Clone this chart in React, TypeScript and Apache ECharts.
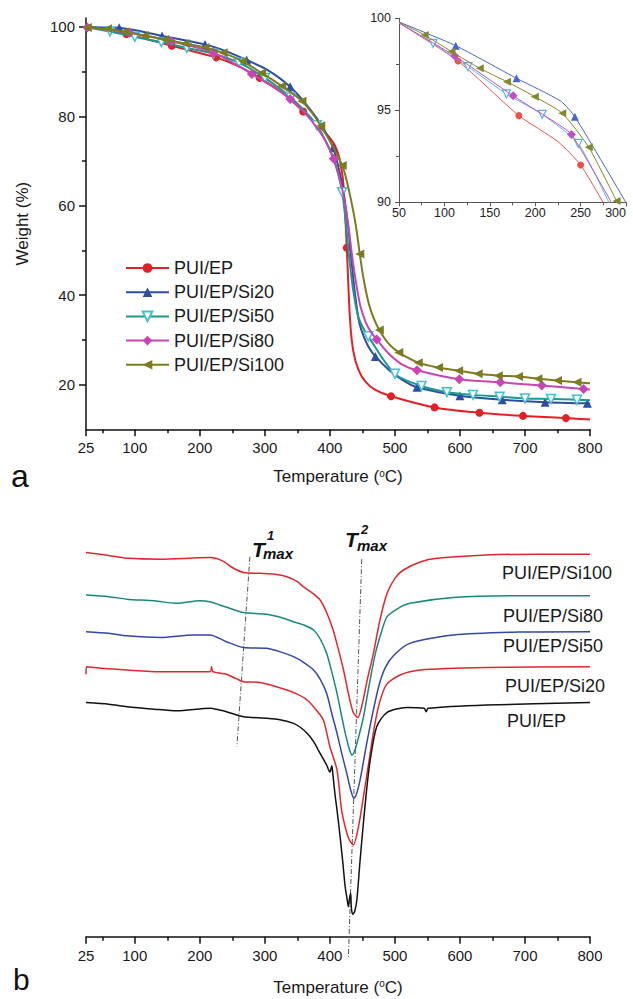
import React, { useEffect, useRef } from 'react';
import * as echarts from 'echarts';

// ---------- axis ticks ----------
const tempTicks = [25, 100, 200, 300, 400, 500, 600, 700, 800];
const tempMinor = [50, 150, 250, 350, 450, 550, 650, 750];
const weightTicks = [20, 40, 60, 80, 100];
const weightMinor = [30, 50, 70, 90];

const names = ['PUI/EP', 'PUI/EP/Si20', 'PUI/EP/Si50', 'PUI/EP/Si80', 'PUI/EP/Si100'];

// ---------- TGA (panel a), [temperature, weight %] ----------
const epMarks = [[87, 98.4], [157, 95.8], [225, 93.2], [292, 88.6], [359, 81.1], [426, 50.6], [494, 17.4], [561, 14.9], [630, 13.7], [697, 13.0], [763, 12.5]];
const epCurve = [[25, 100], [50, 99.6], [120, 97.2], [190, 94.5], [260, 91.2], [325, 85.5], [390, 76.8], [405, 74.2], [412, 72.0], [417, 69.0], [421, 64.5], [431, 34.5], [436, 27.5], [444, 23.3], [455, 20.6], [470, 18.8], [800, 12.2]];

const si20Marks = [[76, 99.8], [142, 98.0], [208, 96.1], [272, 92.6], [339, 86.6], [405, 73.0], [470, 26.3], [534, 19.4], [600, 17.5], [665, 16.6], [731, 16.05], [796, 15.8]];
const si20Curve = [[25, 100], [50, 99.9], [240, 94.6], [305, 90.3], [370, 81.5], [390, 77.3], [415, 67.5], [422, 62.0], [428, 55.5], [433, 48.0], [438, 41.0], [445, 34.0], [452, 30.8], [460, 28.3], [490, 23.4], [510, 21.2], [800, 15.7]];

const si50Marks = [[62, 99.0], [100, 97.8], [141, 96.6], [180, 95.3], [221, 94.0], [260, 92.0], [300, 88.6], [340, 84.2], [380, 78.0], [419, 63.0], [459, 30.8], [500, 22.4], [541, 19.7], [580, 18.3], [620, 17.7], [661, 17.3], [700, 16.9], [740, 16.8], [780, 16.6]];
const si50Curve = [[25, 100], [400, 72.5], [410, 68.5], [425, 55.5], [430, 48.0], [436, 41.0], [443, 35.5], [450, 33.0], [800, 16.5]];

const si80Marks = [[27, 99.9], [92, 98.7], [156, 96.8], [221, 94.2], [280, 89.5], [339, 83.9], [406, 70.5], [472, 30.1], [534, 23.2], [599, 21.2], [662, 20.5], [726, 19.8], [790, 19.0]];
const si80Curve = [[380, 77.5], [420, 63.0], [428, 56.0], [434, 49.0], [440, 43.0], [447, 37.5], [455, 34.0], [463, 31.8], [490, 27.0], [510, 24.6], [800, 18.9]];

const si100Marks = [[27, 99.9], [58, 99.6], [85, 98.9], [115, 98.1], [146, 97.2], [177, 96.3], [208, 95.4], [236, 94.2], [266, 92.3], [295, 89.7], [326, 86.8], [357, 83.4], [386, 77.9], [419, 69.0], [446, 49.2], [476, 32.2], [506, 27.2], [536, 24.9], [567, 23.8], [598, 23.1], [628, 22.4], [659, 22.0], [690, 21.8], [720, 21.3], [750, 20.9], [780, 20.5]];
const si100Curve = [[430, 63.0], [440, 55.5], [452, 43.5], [460, 38.0], [467, 35.0], [490, 29.2], [800, 20.3]];

// ---------- inset (50-300 °C) ----------
const inEpMarks = [[115, 97.68], [182, 94.71], [250, 92.03]];
const inEpCurve = [[50, 99.75], [225, 93.3], [277, 89.8]];
const inSi20Marks = [[112.5, 98.51], [179.4, 96.74], [243.7, 94.65]];
const inSi20Curve = [[50, 99.8], [228, 95.5], [301, 89.9]];
const inSi50Marks = [[87.5, 98.64], [126, 97.37], [168.4, 95.89], [207.7, 94.78], [247.4, 93.2]];
const inSi50Curve = [[50, 99.75], [282, 89.9]];
const inSi80Marks = [[111.4, 97.95], [175.7, 95.79], [240, 93.69]];
const inSi80Curve = [[50, 99.75], [225, 94.25], [285, 89.9]];
const inSi100Marks = [[78.3, 99.09], [107.8, 98.19], [139, 97.28], [169, 96.55], [199.6, 95.74], [229.8, 94.84], [259, 92.99], [289.6, 90.07]];
const inSi100Curve = [[50, 99.8], [292, 89.8]];

// ---------- DTG (panel b), [temperature, relative offset signal] ----------
const dtgSi100 = [[25, 92.2], [60, 91.5], [90, 90.8], [140, 90.6], [190, 90.9], [216, 91.0], [235, 90.2], [250, 88.6], [267, 87.4], [293, 87.2], [315, 87.0], [334, 86.4], [350, 85.2], [359, 84.0], [372, 82.6], [385, 80.8], [395, 77.8], [405, 73.6], [413, 69.0], [421, 64.0], [429, 58.0], [436, 53.8], [443, 52.6], [450, 56.0], [458, 62.0], [467, 68.0], [477, 76.0], [488, 82.4], [500, 86.0], [513, 88.0], [540, 90.0], [565, 90.8], [640, 91.6], [720, 91.8], [800, 91.8]];
const dtgSi80 = [[25, 82.0], [60, 81.6], [88, 81.0], [130, 80.6], [165, 80.0], [200, 80.6], [215, 80.4], [231, 79.6], [250, 78.6], [267, 77.8], [303, 77.4], [325, 76.6], [344, 75.6], [360, 74.8], [375, 73.6], [385, 71.5], [395, 68.0], [403, 63.5], [411, 58.4], [418, 53.0], [424, 48.6], [430, 45.0], [434, 43.6], [439, 45.0], [446, 49.0], [452, 53.0], [460, 60.0], [470, 68.0], [480, 73.5], [488, 76.8], [505, 78.8], [523, 80.0], [590, 81.4], [690, 81.8], [800, 81.8]];
const dtgSi50 = [[25, 73.2], [60, 72.8], [88, 72.2], [139, 71.8], [190, 72.4], [216, 72.4], [230, 71.6], [241, 70.8], [267, 69.4], [303, 69.2], [325, 68.3], [344, 67.2], [360, 65.8], [375, 64.0], [385, 61.8], [395, 58.4], [403, 53.5], [411, 48.8], [419, 43.5], [426, 39.2], [432, 35.2], [437, 33.2], [442, 34.8], [447, 38.0], [455, 45.0], [465, 53.0], [475, 60.0], [485, 64.5], [498, 67.5], [523, 70.4], [590, 72.4], [690, 73.1], [800, 73.2]];
const dtgSi20 = [[25, 63.0], [26, 64.8], [50, 64.4], [88, 64.0], [139, 63.6], [216, 63.6], [218, 64.8], [220, 63.6], [241, 63.0], [255, 62.0], [267, 61.2], [293, 61.0], [334, 59.2], [350, 58.2], [365, 56.8], [378, 54.6], [390, 52.0], [400, 45.6], [411, 40.0], [418, 30.4], [425, 25.5], [430, 23.2], [436, 22.0], [444, 26.4], [452, 34.0], [460, 42.0], [468, 50.0], [476, 56.0], [487, 60.5], [508, 62.8], [539, 64.0], [641, 64.6], [800, 64.8]];
const dtgEp = [[25, 56.2], [60, 55.8], [88, 55.2], [130, 54.6], [165, 54.2], [216, 54.8], [230, 54.4], [241, 54.0], [267, 52.8], [303, 52.4], [325, 52.0], [344, 51.2], [355, 50.2], [365, 48.8], [375, 46.8], [385, 44.0], [395, 41.2], [400, 39.5], [403, 41.0], [405, 38.4], [408, 34.0], [411, 30.4], [415, 25.0], [418.5, 20.0], [421, 16.0], [423.5, 12.0], [426, 9.5], [428.5, 7.2], [430, 9.0], [432, 10.4], [433, 7.0], [435, 5.4], [438, 6.0], [441.5, 8.8], [446.5, 18.4], [452, 28.0], [457, 36.0], [462, 42.4], [472, 50.4], [487.6, 53.8], [518, 55.0], [545, 54.8], [548, 54.0], [551, 54.8], [641, 55.6], [800, 56.2]];
const t1Line = [[277, 91.2], [257, 45.6]];
const t2Line = [[449, 90.6], [428.5, -4.9]];

const FONT = '"Liberation Sans", Arial, Helvetica, sans-serif';

function merge(curve: number[][], marks: number[][]) {
  const pts: any[] = [
    ...curve.map((p) => ({ value: p, symbol: 'none' })),
    ...marks.map((p) => ({ value: p })),
  ];
  pts.sort((a, b) => a.value[0] - b.value[0]);
  return pts;
}

const mainStyles = [
  { color: '#e41f26', symbol: 'circle', size: 8, rotate: 0, fill: '#e41f26', border: '#e41f26' },
  { color: '#2c4ea3', symbol: 'triangle', size: 9, rotate: 0, fill: '#2c4ea3', border: '#2c4ea3' },
  { color: '#1c9a8e', symbol: 'triangle', size: 9, rotate: 180, fill: '#ffffff', border: '#45c0d2' },
  { color: '#c845b5', symbol: 'diamond', size: 10, rotate: 0, fill: '#c845b5', border: '#c845b5' },
  { color: '#7b7c1f', symbol: 'triangle', size: 9, rotate: 90, fill: '#7b7c1f', border: '#7b7c1f' },
];
const insetColors = ['#f0504a', '#4a66c8', '#5ab4e6', '#c050c8', '#808a2a'];

const mainData = [merge(epCurve, epMarks), merge(si20Curve, si20Marks), merge(si50Curve, si50Marks), merge(si80Curve, si80Marks), merge(si100Curve, si100Marks)];
const insetData = [merge(inEpCurve, inEpMarks), merge(inSi20Curve, inSi20Marks), merge(inSi50Curve, inSi50Marks), merge(inSi80Curve, inSi80Marks), merge(inSi100Curve, inSi100Marks)];
const dtgData = [dtgSi100, dtgSi80, dtgSi50, dtgSi20, dtgEp];
const dtgNames = ['PUI/EP/Si100', 'PUI/EP/Si80', 'PUI/EP/Si50', 'PUI/EP/Si20', 'PUI/EP'];
const dtgColors = ['#e3262d', '#16897c', '#3347a6', '#e3262d', '#111111'];
const dtgLabelPos = [[502, 573], [503, 616], [503, 646], [505, 686], [507, 721]];

const axisLineStyle = { color: '#111', width: 1.5 };

function tempAxis(grid: number, nameGap: number) {
  return [
    {
      type: 'value', gridIndex: grid, min: 25, max: 800, position: 'bottom',
      axisLine: { show: true, onZero: false, lineStyle: axisLineStyle },
      axisTick: { show: true, customValues: tempTicks, length: 7, lineStyle: { color: '#111', width: 1.5 } },
      axisLabel: { show: true, customValues: tempTicks, fontSize: 15, color: '#1a1a1a', margin: 11, fontFamily: FONT },
      splitLine: { show: false },
      name: 'Temperature ({s|o}C)', nameLocation: 'middle', nameGap,
      nameTextStyle: { fontSize: 17, color: '#1a1a1a', fontFamily: FONT, rich: { s: { fontSize: 10, verticalAlign: 'top', fontFamily: FONT, color: '#1a1a1a' } } },
    },
    {
      type: 'value', gridIndex: grid, min: 25, max: 800, position: 'bottom',
      axisLine: { show: false, onZero: false },
      axisTick: { show: true, customValues: tempMinor, length: 4, lineStyle: { color: '#111', width: 1.5 } },
      axisLabel: { show: false },
      splitLine: { show: false },
    },
  ];
}

export default function App() {
  const ref = useRef<HTMLDivElement>(null);
  useEffect(() => {
    if (!ref.current) return;
    const chart = echarts.init(ref.current, null, { renderer: 'svg' });

    const series: any[] = [];
    mainData.forEach((d, i) => {
      const s = mainStyles[i];
      series.push({
        name: names[i], type: 'line', xAxisIndex: 0, yAxisIndex: 0, data: d,
        smooth: 0.3, showAllSymbol: true,
        symbol: s.symbol, symbolSize: s.size, symbolRotate: s.rotate,
        lineStyle: { color: s.color, width: 2 },
        itemStyle: { color: s.fill, borderColor: s.border, borderWidth: i === 2 ? 1.5 : 0 },
        z: 3 + i,
      });
    });
    insetData.forEach((d, i) => {
      const s = mainStyles[i];
      series.push({
        name: 'inset ' + names[i], type: 'line', xAxisIndex: 2, yAxisIndex: 2, data: d,
        smooth: 0.2, showAllSymbol: true,
        symbol: s.symbol, symbolSize: s.size - 1, symbolRotate: s.rotate,
        lineStyle: { color: insetColors[i], width: 1 },
        itemStyle: { color: i === 2 ? '#ffffff' : insetColors[i], borderColor: insetColors[i], borderWidth: i === 2 ? 1.2 : 0 },
        z: 3 + i,
      });
    });
    dtgData.forEach((d, i) => {
      series.push({
        name: 'DTG ' + dtgNames[i], type: 'line', xAxisIndex: 3, yAxisIndex: 3, data: d,
        smooth: 0.25, symbol: 'none', lineStyle: { color: dtgColors[i], width: 1.5 }, z: 3,
      });
    });
    [t1Line, t2Line].forEach((d, i) => {
      series.push({
        name: 'Tmax' + (i + 1), type: 'line', xAxisIndex: 3, yAxisIndex: 3, data: d, clip: false,
        symbol: 'none', silent: true, lineStyle: { color: '#555', width: 1, type: [5, 2, 1, 2] }, z: 2,
      });
    });

    const graphic: any[] = [
      { type: 'text', x: 11, y: 476, style: { text: 'a', font: `32px ${FONT}`, fill: '#111', verticalAlign: 'middle' } },
      { type: 'text', x: 13, y: 979, style: { text: 'b', font: `30px ${FONT}`, fill: '#111', verticalAlign: 'middle' } },
      { type: 'text', x: 252, y: 549, style: { text: 'T', font: `italic bold 21px ${FONT}`, fill: '#111', verticalAlign: 'middle' } },
      { type: 'text', x: 267, y: 535, style: { text: '1', font: `italic bold 13px ${FONT}`, fill: '#111', verticalAlign: 'middle' } },
      { type: 'text', x: 263, y: 553, style: { text: 'max', font: `italic bold 15px ${FONT}`, fill: '#111', verticalAlign: 'middle' } },
      { type: 'text', x: 345, y: 539, style: { text: 'T', font: `italic bold 21px ${FONT}`, fill: '#111', verticalAlign: 'middle' } },
      { type: 'text', x: 361, y: 529, style: { text: '2', font: `italic bold 13px ${FONT}`, fill: '#111', verticalAlign: 'middle' } },
      { type: 'text', x: 357, y: 545, style: { text: 'max', font: `italic bold 15px ${FONT}`, fill: '#111', verticalAlign: 'middle' } },
    ];
    dtgNames.forEach((n, i) => {
      graphic.push({ type: 'text', x: dtgLabelPos[i][0], y: dtgLabelPos[i][1], style: { text: n, font: `18px ${FONT}`, fill: '#1a1a1a', verticalAlign: 'middle' } });
    });

    const option: any = {
      animation: false,
      backgroundColor: '#ffffff',
      textStyle: { fontFamily: FONT },
      grid: [
        { left: 86, right: 43, top: 18, height: 411.3, outerBoundsMode: 'none', containLabel: false },
        { left: 399, right: 7, top: 18.3, height: 184, outerBoundsMode: 'none', containLabel: false },
        { left: 86, right: 43, top: 520, height: 416.7, outerBoundsMode: 'none', containLabel: false },
      ],
      legend: {
        data: names, orient: 'vertical', left: 125, top: 259, padding: 0,
        itemWidth: 43, itemHeight: 12, itemGap: 6.2,
        textStyle: { fontSize: 18, color: '#1a1a1a', fontFamily: FONT, lineHeight: 18 },
        selectedMode: false,
      },
      xAxis: [
        ...tempAxis(0, 39),
        {
          type: 'value', gridIndex: 1, min: 50, max: 300, interval: 50, position: 'bottom',
          axisLine: { show: true, onZero: false, lineStyle: { color: '#555', width: 1 } },
          axisTick: { show: true, length: 4, lineStyle: { color: '#555' } },
          minorTick: { show: true, splitNumber: 2, length: 3, lineStyle: { color: '#555' } },
          axisLabel: { fontSize: 12.5, color: '#222', margin: 4, fontFamily: FONT, alignMaxLabel: 'right' },
          splitLine: { show: false },
        },
        ...tempAxis(2, 42),
      ],
      yAxis: [
        {
          type: 'value', gridIndex: 0, min: 10, max: 102, position: 'left',
          axisLine: { show: true, onZero: false, lineStyle: axisLineStyle },
          axisTick: { show: true, customValues: weightTicks, length: 7, lineStyle: { color: '#111', width: 1.5 } },
          axisLabel: { show: true, customValues: weightTicks, fontSize: 15, color: '#1a1a1a', margin: 11, fontFamily: FONT },
          splitLine: { show: false },
          name: 'Weight (%)', nameLocation: 'middle', nameGap: 55,
          nameTextStyle: { fontSize: 17, color: '#1a1a1a', fontFamily: FONT },
        },
        {
          type: 'value', gridIndex: 0, min: 10, max: 102, position: 'left',
          axisLine: { show: false, onZero: false },
          axisTick: { show: true, customValues: weightMinor, length: 4, lineStyle: { color: '#111', width: 1.5 } },
          axisLabel: { show: false },
          splitLine: { show: false },
        },
        {
          type: 'value', gridIndex: 1, min: 90, max: 100, interval: 5, position: 'left',
          axisLine: { show: true, onZero: false, lineStyle: { color: '#555', width: 1 } },
          axisTick: { show: true, length: 4, lineStyle: { color: '#555' } },
          minorTick: { show: true, splitNumber: 2, length: 3, lineStyle: { color: '#555' } },
          axisLabel: { fontSize: 12.5, color: '#222', margin: 8, fontFamily: FONT },
          splitLine: { show: false },
        },
        { type: 'value', gridIndex: 2, min: 0, max: 100, show: false, splitLine: { show: false } },
      ],
      series,
      graphic,
    };
    chart.setOption(option);
    return () => chart.dispose();
  }, []);
  return (
    <div ref={ref} style={{ position: 'fixed', left: 0, top: 0, width: 633, height: 999, background: '#fff' }} />
  );
}
